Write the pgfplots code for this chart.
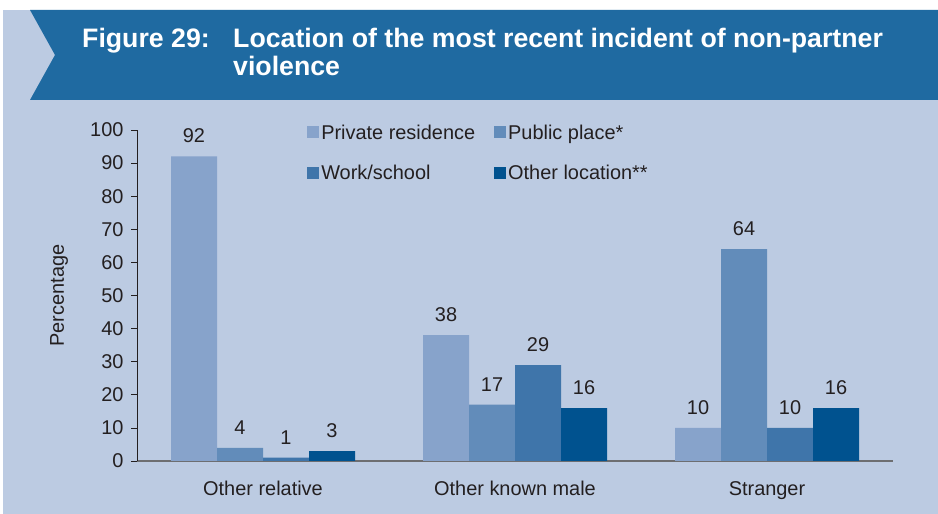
\documentclass[border=0pt]{standalone}
\usepackage{pgfplots}
\pgfplotsset{compat=1.18}
\usepackage{fontspec}
\setmainfont{Liberation Sans}
\definecolor{bg}{HTML}{BCCBE2}
\definecolor{banner}{HTML}{1F6AA1}
\definecolor{cA}{HTML}{87A3CB}
\definecolor{cB}{HTML}{628CBA}
\definecolor{cC}{HTML}{3F75AA}
\definecolor{cD}{HTML}{00528F}
\definecolor{txt}{HTML}{231F20}
\definecolor{xline}{HTML}{6D6E71}
\begin{document}
\begin{tikzpicture}
\useasboundingbox (0,0) rectangle (938bp,514bp);
\fill[white] (0,0) rectangle (938bp,514bp);
\fill[bg] (3bp,0bp) rectangle (938bp,504bp);
\fill[banner] (30bp,504bp) -- (938bp,504bp) -- (938bp,414bp) -- (30bp,414bp) -- (55bp,459bp) -- cycle;
\node[anchor=base west, inner sep=0pt, text=white, font=\fontsize{26.8}{30}\bfseries\selectfont] at (82bp,466bp) {Figure 29:};
\node[anchor=base west, inner sep=0pt, text=white, font=\fontsize{26.8}{30}\bfseries\selectfont] at (233bp,466bp) {Location of the most recent incident of non-partner};
\node[anchor=base west, inner sep=0pt, text=white, font=\fontsize{26.8}{30}\bfseries\selectfont] at (233bp,438bp) {violence};
\begin{axis}[
  at={(137bp,53bp)}, anchor=south west,
  scale only axis, width=756bp, height=331bp,
  ybar=0pt, bar width=46bp,
  xmin=-0.5, xmax=2.5, ymin=0, ymax=100,
  ytick={0,10,...,100},
  xtick={0,1,2},
  xticklabels={Other relative, Other known male, Stranger},
  axis x line*=bottom, axis y line*=left,
  x axis line style={draw=xline, line width=1.2pt, -},
  y axis line style={draw=txt, line width=0.8pt, -},
  xtick style={draw=none},
  ytick style={draw=txt, line width=0.8pt},
  tick align=outside, major tick length=6bp,
  /pgf/number format/assume math mode=true,
  ticklabel style={font=\fontsize{20}{23}\selectfont, text=txt},
  xticklabel style={yshift=-11bp},
  yticklabel style={xshift=-4bp},
  ylabel={Percentage},
  ylabel style={at={(axis description cs:-0.103,0.5)}, anchor=center, font=\fontsize{20}{23}\selectfont, text=txt},
  nodes near coords,
  nodes near coords style={font=\fontsize{20}{23}\selectfont, text=txt, yshift=10bp},
  legend style={draw=none, fill=none, at={(axis description cs:0.221,1.029)}, anchor=north west,
    font=\fontsize{20}{23}\selectfont, text=txt, legend columns=2, row sep=21bp,
    /tikz/every even column/.append style={column sep=17bp}},
  legend cell align=left,
  legend image code/.code={\fill[#1] (-4bp,-5.5bp) rectangle (8bp,6.5bp);},
]
\addplot[fill=cA, draw=none] coordinates {(0,92) (1,38) (2,10)};
\addplot[fill=cB, draw=none] coordinates {(0,4) (1,17) (2,64)};
\addplot[fill=cC, draw=none] coordinates {(0,1) (1,29) (2,10)};
\addplot[fill=cD, draw=none] coordinates {(0,3) (1,16) (2,16)};
\legend{Private residence, Public place*, Work/school, Other location**}
\end{axis}
\end{tikzpicture}
\end{document}
